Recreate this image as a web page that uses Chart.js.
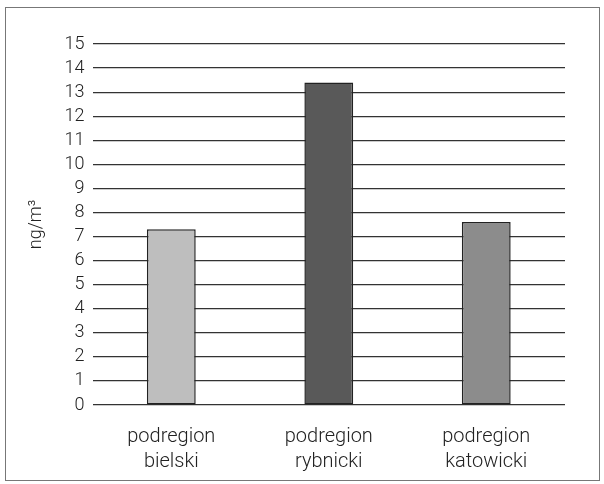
<!DOCTYPE html>
<html>
<head>
<meta charset="utf-8">
<script src="https://cdn.jsdelivr.net/npm/chart.js@4/dist/chart.umd.min.js"></script>
<style>
  html, body { margin: 0; padding: 0; background: #fff; }
  #frame {
    position: absolute; left: 5px; top: 7px;
    width: 595px; height: 474px;
    border: 1px solid #777; box-sizing: border-box;
  }
  #chart { display: block; }
</style>
</head>
<body>
<div id="frame"><canvas id="chart" width="593" height="472"></canvas></div>
<script>
// Dane: stężenie w podregionach (ng/m3)
const regions = [['podregion', 'bielski'], ['podregion', 'rybnicki'], ['podregion', 'katowicki']];
const values = [7.3, 13.4, 7.6];
const barColors = ['#bebebe', '#595959', '#8c8c8c'];
const yMin = 0;
const yMax = 15;
const yStep = 1;
const yTitle = 'ng/m³';

const font = "Roboto, 'Liberation Sans', Arial, sans-serif";

new Chart(document.getElementById('chart').getContext('2d'), {
    type: 'bar',
    data: {
        labels: regions,
        datasets: [{
            data: values,
            backgroundColor: barColors,
            borderColor: '#222',
            borderWidth: 1.5,
            borderSkipped: false,
            categoryPercentage: 1,
            barPercentage: 0.31
        }]
    },
    options: {
        responsive: false,
        animation: false,
        layout: { padding: { top: 36, right: 34, bottom: -5, left: 20 } },
        plugins: { legend: { display: false }, tooltip: { enabled: false } },
        scales: {
            x: {
                grid: { display: false },
                border: { display: false },
                ticks: { color: '#222', font: { family: font, size: 20, weight: 300, lineHeight: 1.25 }, padding: 11, maxRotation: 0 }
            },
            y: {
                min: yMin,
                max: yMax,
                grid: { color: '#333', lineWidth: 1.2, drawTicks: false },
                border: { display: false },
                ticks: { stepSize: yStep, autoSkip: false, color: '#222', font: { family: font, size: 18, weight: 300, lineHeight: 1 }, padding: 8 },
                title: { display: true, text: yTitle, color: '#222', font: { family: font, size: 18, weight: 300 }, padding: { top: 0, bottom: 9 } }
            }
        }
    }
});
</script>
</body>
</html>
